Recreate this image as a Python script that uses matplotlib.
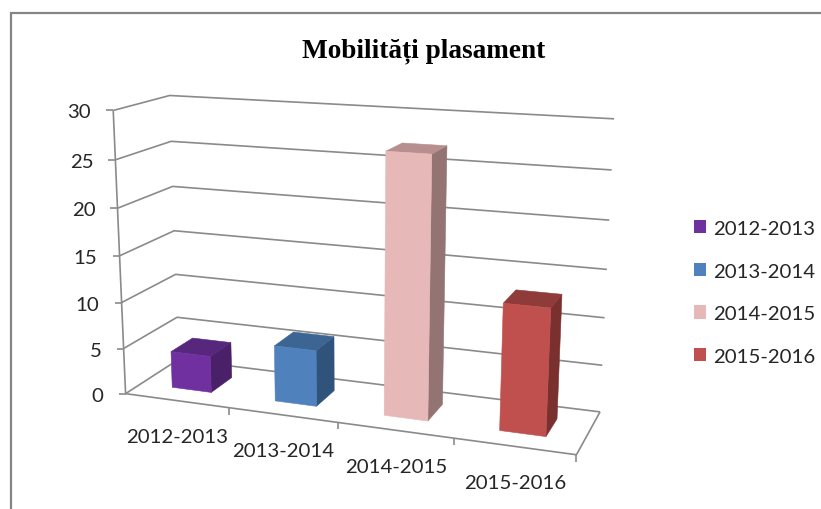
import numpy as np
import matplotlib
matplotlib.use("Agg")
import matplotlib.pyplot as plt
from matplotlib.patches import Polygon, Patch

# ---- data ----
categories = ["2012-2013", "2013-2014", "2014-2015", "2015-2016"]
values = [4, 6, 27, 13]
y_ticks = [0, 5, 10, 15, 20, 25, 30]
title = "Mobilități plasament"
front_colors = ["#7030A0", "#4F81BD", "#E6B8B7", "#C0504D"]
top_colors = ["#57267D", "#3D6594", "#B68F8E", "#8E3B39"]
side_colors = ["#4A2069", "#30537C", "#937472", "#7A302E"]

# ---- camera calibration: (category pos, depth, value) -> measured pixel ----
calib = [
    (0, 0, 30, 113, 111.7), (0, 0, 25, 115, 160.7), (0, 0, 20, 117.3, 208.7),
    (0, 0, 15, 120, 256.7), (0, 0, 5, 124.3, 349), (0, 0, 0, 126, 395),
    (0, 1, 30, 170, 96.5), (0, 1, 25, 171, 142), (0, 1, 20, 173, 187.5),
    (0, 1, 15, 174, 232), (0, 1, 10, 175.5, 275.7), (0, 1, 5, 177, 318.3), (0, 1, 0, 178, 360),
    (4, 1, 30, 614, 120), (4, 1, 25, 611.7, 171), (4, 1, 20, 609, 221.3),
    (4, 1, 15, 607, 270.3), (4, 1, 10, 605, 319), (4, 1, 5, 602.3, 366), (4, 1, 0, 600, 412.7),
    (1, 0, 0, 228.3, 409.3), (2, 0, 0, 337.3, 424), (3, 0, 0, 453.3, 439.3), (4, 0, 0, 576.7, 455),
]
A, b = [], []
for x, d, v, px, py in calib:
    X = (x / 4, d, v / 30, 1)
    A.append(list(X) + [0, 0, 0, 0] + [-px * c for c in X[:3]])
    A.append([0, 0, 0, 0] + list(X) + [-py * c for c in X[:3]])
    b += [px, py]
sol = np.linalg.lstsq(np.array(A, float), np.array(b, float), rcond=None)[0]
M = np.append(sol, 1).reshape(3, 4)


def P(x, d, v):
    h = M @ np.array([x / 4, d, v / 30, 1.0])
    return h[0] / h[2], h[1] / h[2]


plt.rcParams["font.family"] = ["Lato", "DejaVu Sans"]
fig = plt.figure(figsize=(8.21, 5.10), dpi=100, facecolor="white")
ax = fig.add_axes([0, 0, 1, 1])
ax.set_xlim(0, 821)
ax.set_ylim(510, 0)
ax.axis("off")

# chart frame
FRAME = "#858585"
ax.plot([11, 11, 821], [510, 14, 14], color=FRAME, lw=1.6, solid_joinstyle="miter", zorder=1)

GRID = "#8A8A8A"
LW = 1.2
FS = 14.7


def seg(points, **kw):
    xs, ys = zip(*points)
    ax.plot(xs, ys, color=GRID, lw=LW, solid_capstyle="butt", zorder=2, **kw)


# walls
for v in y_ticks:
    seg([P(0, 0, v), P(0, 1, v), P(4, 1, v)])
    px, py = P(0, 0, v)
    seg([(px - 7, py), (px, py)])
    ax.text(px - 22, py + 1.5, str(v), ha="right", va="center", fontsize=FS, color="#262626")
# axes
seg([P(0, 0, 0), P(0, 0, 30)])
seg([P(0, 0, 0), P(4, 0, 0), P(4, 1, 0)])
for i in range(1, 5):
    px, py = P(i, 0, 0)
    seg([(px, py), (px, py + 7)])

# category labels
for i, name in enumerate(categories):
    px, py = P(i + 0.5, 0, 0)
    ax.text(px + 1, py + 36, name, ha="center", va="center", fontsize=FS, color="#262626")

# bars
WIDTH = 0.385
D0, D1 = 0.29, 0.71
for i, val in enumerate(values):
    x0, x1 = i + 0.5 - WIDTH / 2, i + 0.5 + WIDTH / 2
    front = [P(x0, D0, 0), P(x1, D0, 0), P(x1, D0, val), P(x0, D0, val)]
    top = [P(x0, D0, val), P(x1, D0, val), P(x1, D1, val), P(x0, D1, val)]
    side = [P(x1, D0, 0), P(x1, D1, 0), P(x1, D1, val), P(x1, D0, val)]
    for poly, col in ((side, side_colors[i]), (top, top_colors[i]), (front, front_colors[i])):
        ax.add_patch(Polygon(poly, closed=True, facecolor=col, edgecolor=col, lw=0.4, zorder=3))

ax.text(424, 51, title, ha="center", va="center", fontsize=19.6, fontweight="bold",
        family="Liberation Serif", color="black")

handles = [Patch(facecolor=c, edgecolor="none") for c in front_colors]
ax.legend(handles, categories, loc="upper left", bbox_to_anchor=(693.5 / 821, 1 - 221 / 510),
          frameon=False, fontsize=FS, labelspacing=1.25, handlelength=0.63, handleheight=0.63,
          handletextpad=0.33, borderpad=0, borderaxespad=0, labelcolor="#262626")

fig.savefig("out.png", dpi=100)
